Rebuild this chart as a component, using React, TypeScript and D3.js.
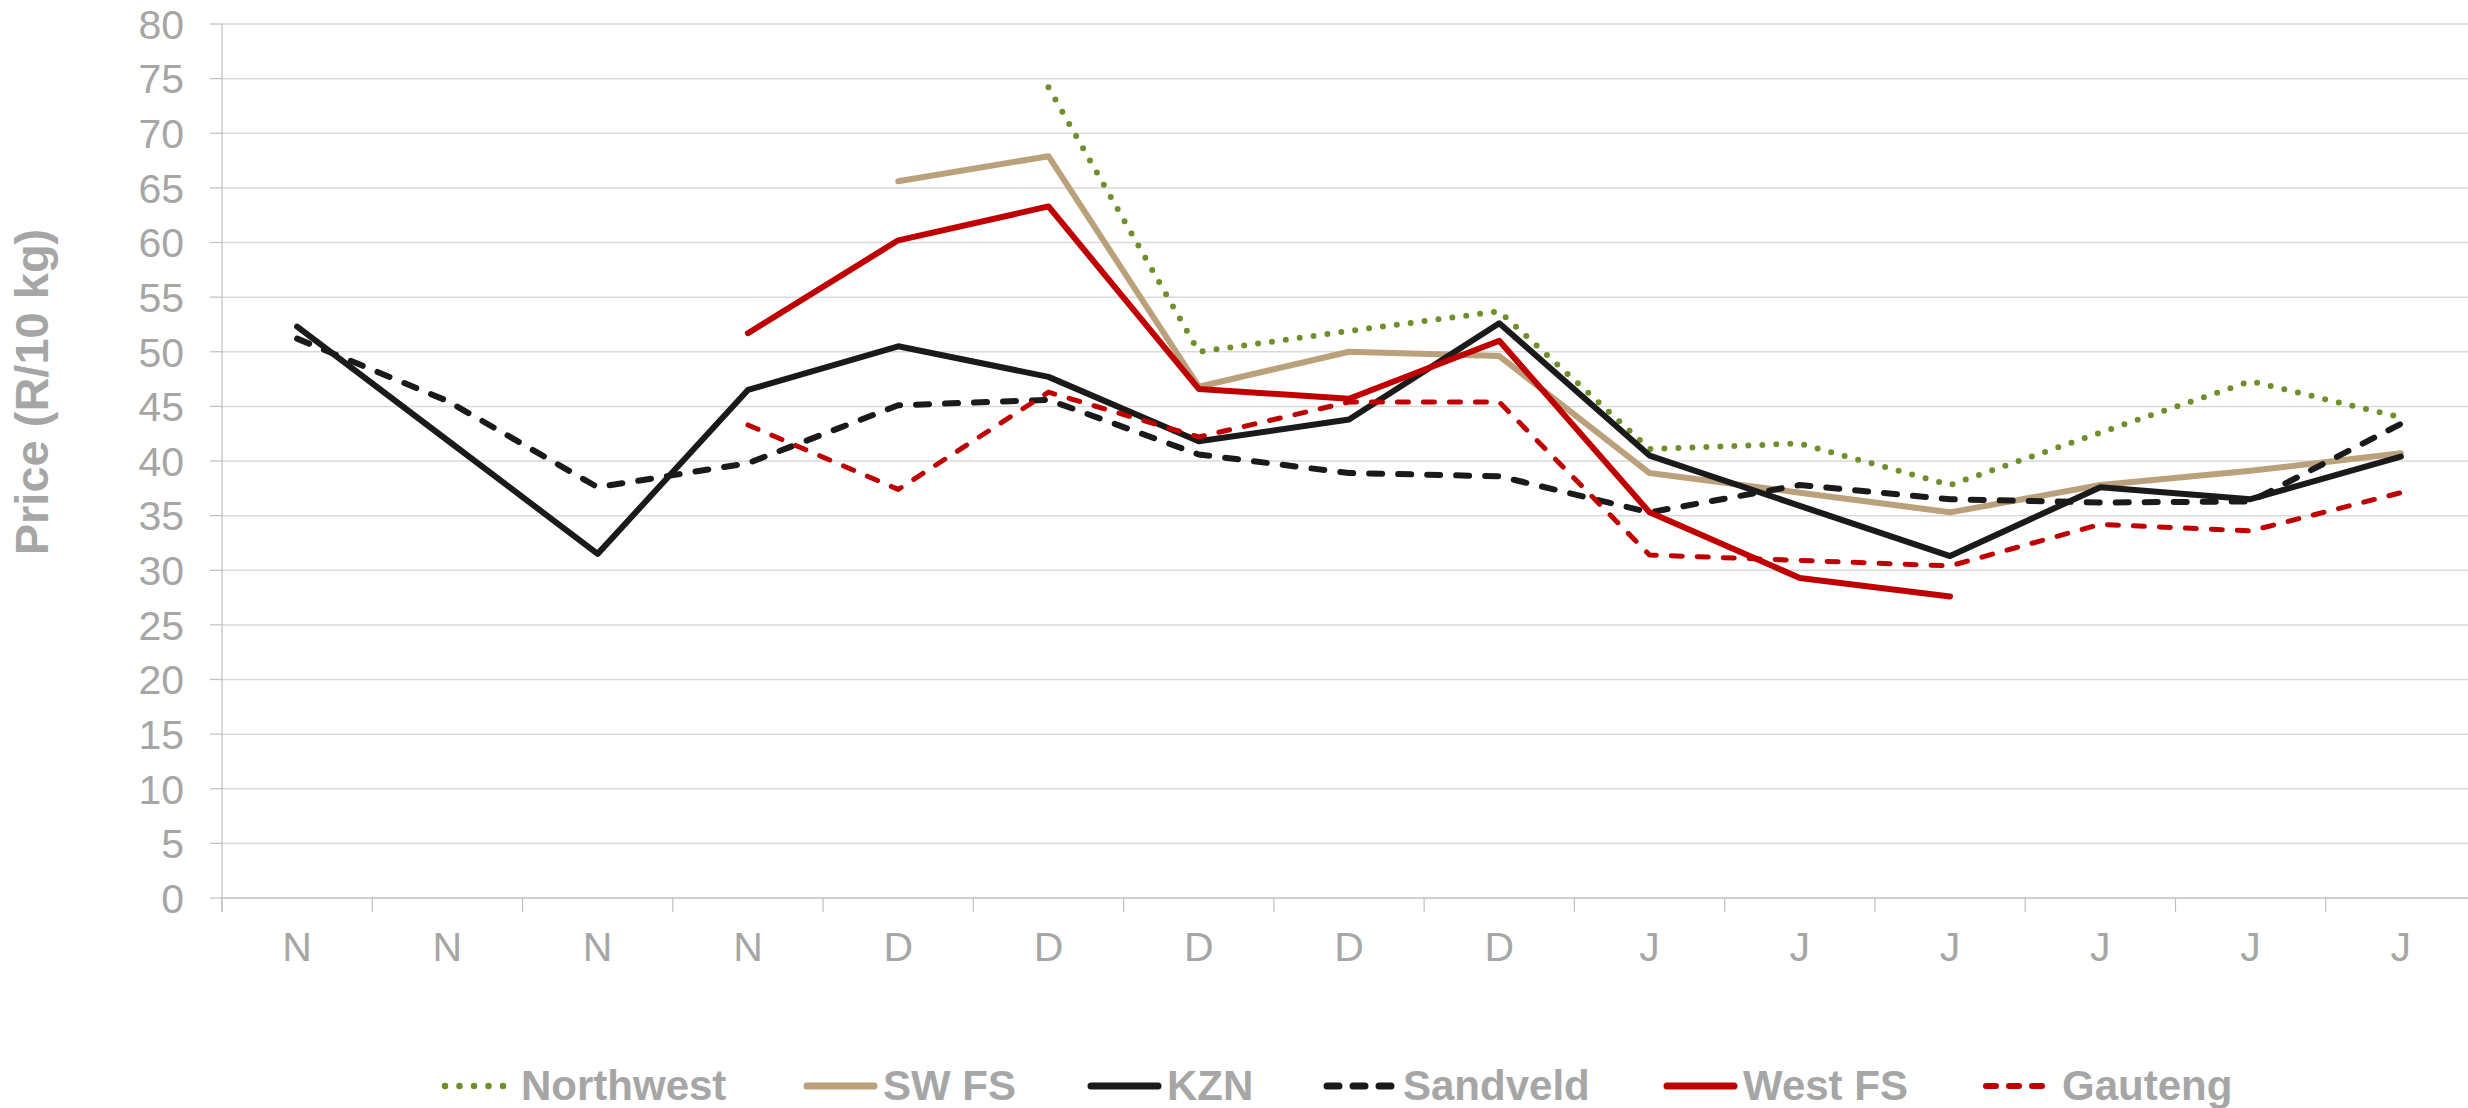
import React from "react";
import * as d3 from "d3";

const categories = ["N", "N", "N", "N", "D", "D", "D", "D", "D", "J", "J", "J", "J", "J", "J"];
const yTicks = [0, 5, 10, 15, 20, 25, 30, 35, 40, 45, 50, 55, 60, 65, 70, 75, 80];

const northwest = [null, null, null, null, null, 74.2, 50.0, 51.9, 53.7, 41.1, 41.6, 37.8, 42.6, 47.3, 44.0];
const swfs = [null, null, null, null, 65.6, 67.9, 46.8, 50.0, 49.6, 38.9, 37.1, 35.3, 37.8, 39.1, 40.7];
const kzn = [52.3, 41.9, 31.5, 46.5, 50.5, 47.7, 41.8, 43.8, 52.6, 40.5, 35.9, 31.3, 37.6, 36.5, 40.4];
const sandveld = [51.2, 45.5, 37.6, 39.8, 45.1, 45.6, 40.6, 38.9, 38.6, 35.3, 37.8, 36.5, 36.2, 36.3, 43.4];
const westfs = [null, null, null, 51.7, 60.2, 63.3, 46.6, 45.7, 51.0, 35.3, 29.3, 27.6, null, null, null];
const gauteng = [null, null, null, 43.3, 37.4, 46.3, 42.2, 45.4, 45.4, 31.4, 30.9, 30.4, 34.2, 33.6, 37.1];

type Series = {
  name: string;
  values: (number | null)[];
  color: string;
  width: number;
  dash: string | null;
};

const series: Series[] = [
  { name: "Northwest", values: northwest, color: "#6f8f2b", width: 6, dash: "0 14" },
  { name: "SW FS", values: swfs, color: "#bba07c", width: 6, dash: null },
  { name: "KZN", values: kzn, color: "#1a1a1a", width: 6, dash: null },
  { name: "Sandveld", values: sandveld, color: "#1a1a1a", width: 6, dash: "13 16" },
  { name: "West FS", values: westfs, color: "#c00000", width: 6, dash: null },
  { name: "Gauteng", values: gauteng, color: "#c00000", width: 5, dash: "11 15" },
];

const W = 2468;
const H = 1108;
const left = 222;
const right = 2476;
const top = 24;
const bottom = 898;
const FONT = "'Liberation Sans', Arial, sans-serif";
const GRAY = "#a6a6a6";

const legendX = [442, 804, 1088, 1324, 1664, 1983];

export default function App() {
  const x = d3
    .scaleBand<number>()
    .domain(categories.map((_, i) => i))
    .range([left, right]);
  const y = d3.scaleLinear().domain([0, 80]).range([bottom, top]);

  const line = d3
    .line<number | null>()
    .defined((d) => d != null)
    .x((_, i) => (x(i) as number) + x.bandwidth() / 2)
    .y((d) => y(d as number));

  return (
    <svg
      width={W}
      height={H}
      style={{ position: "absolute", left: 0, top: 0, background: "#fff" }}
    >
      {yTicks.map((t) => (
        <g key={"g" + t}>
          {t !== 0 && (
            <line x1={left} x2={right} y1={y(t)} y2={y(t)} stroke="#d9d9d9" strokeWidth={1.5} />
          )}
          <line x1={left - 12} x2={left} y1={y(t)} y2={y(t)} stroke="#bfbfbf" strokeWidth={1.2} />
          <text
            x={184}
            y={y(t)}
            dy="0.36em"
            textAnchor="end"
            fontFamily={FONT}
            fontSize={41}
            fill={GRAY}
          >
            {t}
          </text>
        </g>
      ))}
      <line x1={left} x2={left} y1={top} y2={bottom + 14} stroke="#bfbfbf" strokeWidth={1.2} />
      <line x1={left} x2={right} y1={bottom} y2={bottom} stroke="#bfbfbf" strokeWidth={1.5} />
      {categories.map((c, i) => (
        <g key={"x" + i}>
          <line
            x1={x(i) as number}
            x2={x(i) as number}
            y1={bottom}
            y2={bottom + 14}
            stroke="#bfbfbf"
            strokeWidth={1.2}
          />
          <text
            x={(x(i) as number) + x.bandwidth() / 2}
            y={961}
            textAnchor="middle"
            fontFamily={FONT}
            fontSize={41}
            fill={GRAY}
          >
            {c}
          </text>
        </g>
      ))}
      <text
        transform={`translate(48, 392) rotate(-90)`}
        textAnchor="middle"
        fontFamily={FONT}
        fontSize={47}
        fontWeight="bold"
        fill={GRAY}
      >
        Price (R/10 kg)
      </text>
      {series.map((s) => (
        <path
          key={s.name}
          d={line(s.values) || ""}
          fill="none"
          stroke={s.color}
          strokeWidth={s.width}
          strokeDasharray={s.dash || undefined}
          strokeLinecap="round"
          strokeLinejoin="round"
        />
      ))}
      {series.map((s, i) => (
        <g key={"l" + s.name}>
          <line
            x1={legendX[i] + 3}
            x2={legendX[i] + 70}
            y1={1086}
            y2={1086}
            stroke={s.color}
            strokeWidth={s.name === "Northwest" ? 6.5 : s.width + 1}
            strokeDasharray={
              s.name === "Northwest" ? "0 14.5" : s.dash ? (s.name === "Gauteng" ? "10 13" : "12 14") : undefined
            }
            strokeLinecap="round"
          />
          <text
            x={legendX[i] + 79}
            y={1100}
            fontFamily={FONT}
            fontSize={42}
            fontWeight="bold"
            fill={GRAY}
          >
            {s.name}
          </text>
        </g>
      ))}
    </svg>
  );
}
